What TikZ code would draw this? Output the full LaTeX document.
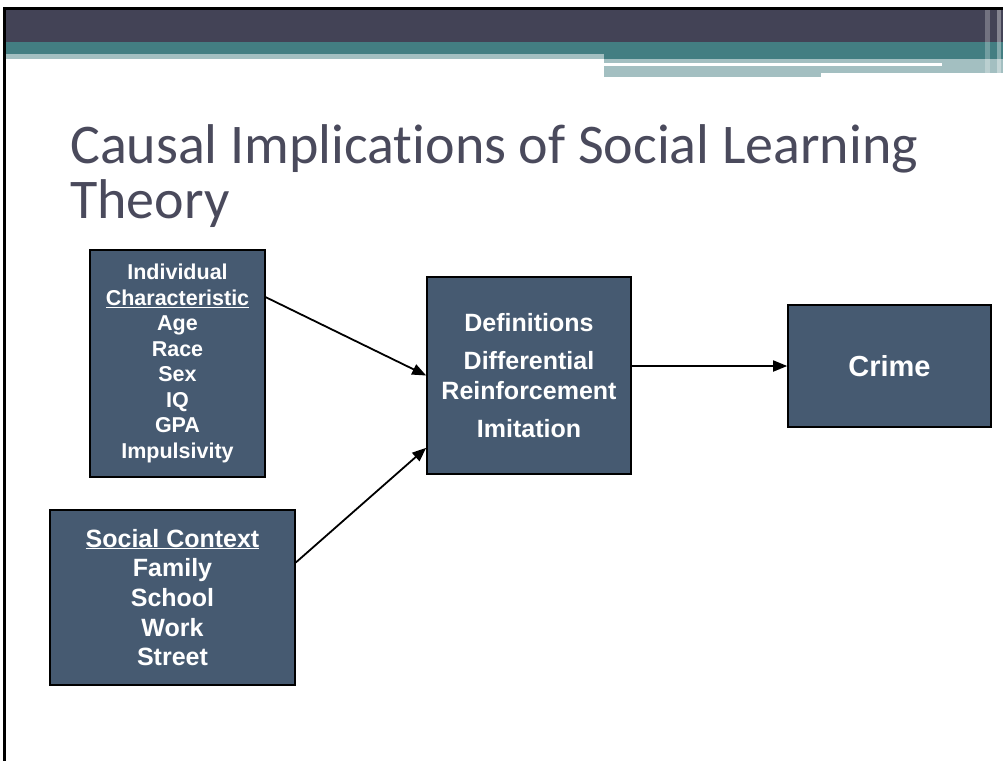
\documentclass[tikz,border=0pt]{standalone}
\usepackage{fontspec}
\setmainfont{Liberation Sans}
\newfontfamily\titlefont[Ligatures={NoCommon}]{Carlito}
\usetikzlibrary{arrows.meta}

\definecolor{barDark}{HTML}{434356}
\definecolor{barTeal}{HTML}{437E82}
\definecolor{barLight}{HTML}{A3BFC1}
\definecolor{boxFill}{HTML}{465A71}
\definecolor{titleGray}{HTML}{4A4A5C}

\tikzset{
  box/.style={rectangle, draw=black, line width=1.6pt, fill=boxFill, text=white,
    align=center, inner sep=0pt, font=\bfseries},
  link/.style={-{Triangle[length=14pt,width=11pt]}, line width=1.8pt}
}

\begin{document}
\begin{tikzpicture}[x=1pt, y=-1pt]
  \useasboundingbox (0,0) rectangle (1003,761);
  \fill[white] (0,0) rectangle (1003,761);
  % Header bars
  \fill[black] (3,7) rectangle (1003,10);
  \fill[barDark] (5,10) rectangle (1003,42);
  \fill[barTeal] (5,42) rectangle (1003,54);
  \fill[barTeal] (604,54) rectangle (1003,59);
  \fill[barLight] (5,54) rectangle (604,59);
  \fill[barLight] (604,59) rectangle (1003,73);
  \fill[barLight] (604,73) rectangle (821,77);
  \fill[white] (604,63) rectangle (942,65.5);
  \fill[white, opacity=0.25] (985,10) rectangle (990,77);
  \fill[white, opacity=0.35] (997,10) rectangle (1001,77);
  \fill[black] (3,7) rectangle (5.5,761);
  % Header
  \node (title) [anchor=base west, inner sep=0pt, text=titleGray,
    font=\titlefont\fontsize{56}{56}\selectfont] at (70,163)
    {Causal Implications of Social Learning};
  \node (title-2) [anchor=base west, inner sep=0pt, text=titleGray,
    font=\titlefont\fontsize{56}{56}\selectfont] at (70,218) {Theory};
  % Nodes
  \node (ind) [box, minimum width=175pt, minimum height=227pt,
    font=\bfseries\fontsize{21.5}{25.5}\selectfont] at (177.5,363.5)
    {Individual\\ \underline{Characteristic}\\ Age\\ Race\\ Sex\\ IQ\\ GPA\\ Impulsivity};
  \node (ctx) [box, minimum width=245pt, minimum height=175pt,
    font=\bfseries\fontsize{25}{29.7}\selectfont] at (172.5,597.5)
    {\underline{Social Context}\\ Family\\ School\\ Work\\ Street};
  \node (def) [box, minimum width=204pt, minimum height=197pt,
    font=\bfseries\fontsize{25}{29.5}\selectfont] at (529,375.5)
    {Definitions\\[9pt] Differential\\ Reinforcement\\[9pt] Imitation};
  \node (crime) [box, minimum width=203pt, minimum height=122pt,
    font=\bfseries\fontsize{29}{30}\selectfont] at (889.5,366) {Crime};
  % Arrow
  \draw[link] ([yshift=-48pt]ind.north east) -- (def.west);
  \draw[link] ([yshift=35pt]ctx.east) -- ([yshift=27pt]def.south west);
  \draw[link] (def.east |- crime.west) -- (crime.west);
\end{tikzpicture}
\end{document}
